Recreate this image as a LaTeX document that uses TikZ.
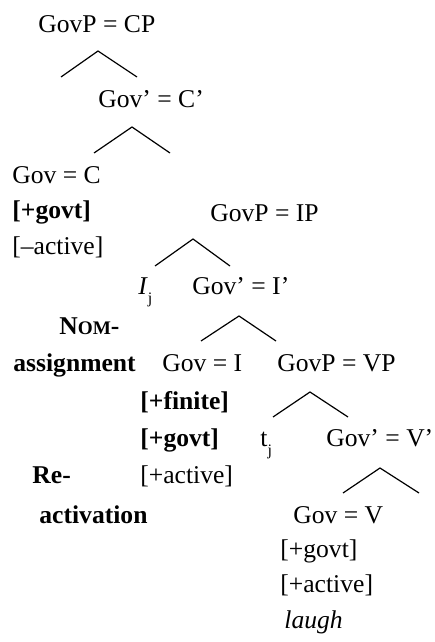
\documentclass[tikz,border=0pt]{standalone}
\usepackage{fontspec}
\setmainfont{Liberation Serif}
\usetikzlibrary{positioning}

\begin{document}
\begin{tikzpicture}[
        x=0.5pt, y=-0.5pt,
        treenode/.style={inner sep=0pt, anchor=base west, font=\fontsize{12.8}{15}\selectfont},
        featnode/.style={treenode, font=\fontsize{12.8}{15}\selectfont},
        labelnode/.style={treenode, font=\fontsize{12.8}{15}\selectfont\bfseries},
        branch/.style={draw=black, line width=0.6pt}
    ]
    \useasboundingbox (0,0) rectangle (434,642);

        \node [treenode] (CP) at (38,33) {GovP = CP};
        \node [treenode] (Cbar) at (98,108) {Gov’ = C’};
        \node [treenode] (C) at (12,184) {Gov = C};
        \node [featnode] (Cgovt) at (12,218) {\textbf{[+govt]}};
        \node [featnode] (Cactive) at (12,254) {[–active]};

        \node [treenode] (IP) at (210,221) {GovP = IP};
        \node [treenode] (Ispec) at (138,294) {\textit{I}\raisebox{-4.5pt}{\fontsize{8}{9}\selectfont j}};
        \node [treenode] (Ibar) at (192,294) {Gov’ = I’};
        \node [treenode] (I) at (162,371) {Gov = I};
        \node [featnode] (Ifinite) at (140,409) {\textbf{[+finite]}};
        \node [featnode] (Igovt) at (140,446) {\textbf{[+govt]}};
        \node [featnode] (Iactive) at (140,483) {[+active]};

        \node [treenode] (VP) at (277,371) {GovP = VP};
        \node [treenode] (Vspec) at (260,446) {t\raisebox{-4.5pt}{\fontsize{8}{9}\selectfont j}};
        \node [treenode] (Vbar) at (326,446) {Gov’ = V’};
        \node [treenode] (V) at (293,523) {Gov = V};
        \node [featnode] (Vgovt) at (280,557) {[+govt]};
        \node [featnode] (Vactive) at (280,592) {[+active]};
        \node [featnode] (Vlex) at (284,628) {\textit{laugh}};

        \node [labelnode] (Nom) at (59,334) {N{\fontsize{9.6}{11}\selectfont OM}-};
        \node [labelnode] (Assign) at (13,371) {assignment};
        \node [labelnode] (Re) at (32,483) {Re-};
        \node [labelnode] (Activ) at (39,523) {activation};

        % branches
        \coordinate (CPtop) at (98,51);   \coordinate (CPl) at (61,77);   \coordinate (CPr) at (137,77);
        \coordinate (Cbartop) at (132,127); \coordinate (Cbarl) at (94,153); \coordinate (Cbarr) at (170,153);
        \coordinate (IPtop) at (193,239); \coordinate (IPl) at (155,266); \coordinate (IPr) at (230,266);
        \coordinate (Ibartop) at (239,316); \coordinate (Ibarl) at (201,341); \coordinate (Ibarr) at (276,341);
        \coordinate (VPtop) at (310,392); \coordinate (VPl) at (273,417); \coordinate (VPr) at (348,417);
        \coordinate (Vbartop) at (380,468); \coordinate (Vbarl) at (343,493); \coordinate (Vbarr) at (419,493);

        \draw [branch] (CPl) -- (CPtop) -- (CPr);
        \draw [branch] (Cbarl) -- (Cbartop) -- (Cbarr);
        \draw [branch] (IPl) -- (IPtop) -- (IPr);
        \draw [branch] (Ibarl) -- (Ibartop) -- (Ibarr);
        \draw [branch] (VPl) -- (VPtop) -- (VPr);
        \draw [branch] (Vbarl) -- (Vbartop) -- (Vbarr);

    \end{tikzpicture}
\end{document}
